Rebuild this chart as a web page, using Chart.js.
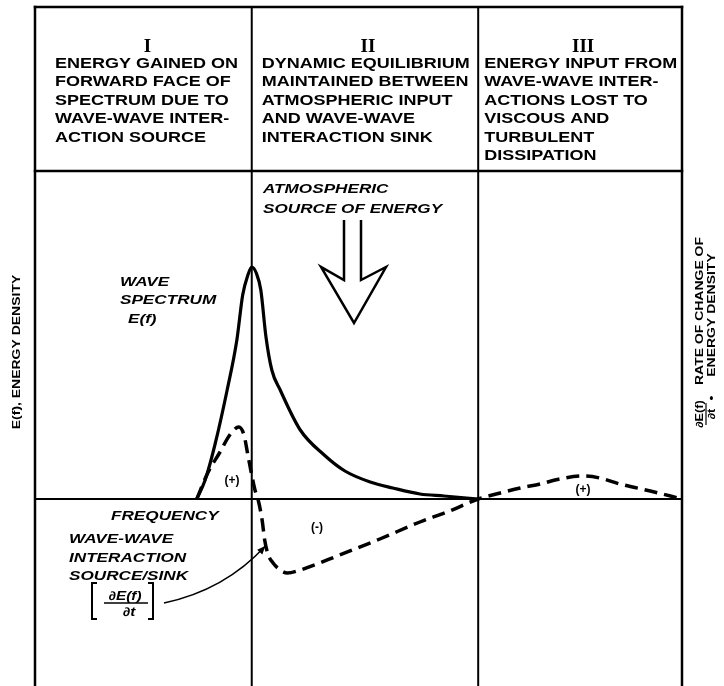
<!DOCTYPE html>
<html>
<head>
<meta charset="utf-8">
<script src="https://cdn.jsdelivr.net/npm/chart.js@4.4.1/dist/chart.umd.min.js"></script>
<style>
  html, body { margin: 0; padding: 0; background: #fff; }
  canvas { display: block; }
</style>
</head>
<body>
<canvas id="waveChart" width="724" height="686"></canvas>
<script>
// frequency runs 0..100 across the three regions, energy in relative units
const regionBounds = [0, 33.5, 68.5, 100];

// solid curve: wave spectrum E(f)
const spectrumFreq   = [25.0, 26.3, 27.8, 29.7, 31.2, 32.1, 32.9, 33.5, 34.2, 34.9, 35.7, 36.6, 37.9, 41.0, 44.7, 47.9, 51.8, 55.3, 59.5, 63.2, 68.5];
const spectrumEnergy = [0, 19, 54, 109, 159, 204, 224, 232, 226, 209, 162, 129, 109, 69, 44, 28, 17, 11, 5, 3, 0];

// dashed curve: wave-wave interaction source/sink dE(f)/dt
const sinkFreq = [25.0, 26.7, 28.6, 30.1, 31.5, 32.3, 32.9, 33.5, 34.0, 34.5, 35.1, 35.5, 36.0, 36.8, 37.9, 39.0, 41.0, 47.1, 53.3, 59.5, 64.1, 68.5, 71.9, 75.0, 78.1, 81.1, 84.7, 87.3, 90.4, 95.1, 100];
const sinkRate = [0, 26, 47, 64, 72, 64, 44, 24, 9, -1, -21, -41, -55, -64, -71, -74, -71, -56, -40, -23, -12, 0, 6, 11, 15, 20, 23, 21, 15, 8, 0];

// header text for each region
const regionNumerals = ['I', 'II', 'III'];
const regionText = [
  ['ENERGY GAINED ON', 'FORWARD FACE OF', 'SPECTRUM DUE TO', 'WAVE-WAVE INTER-', 'ACTION SOURCE'],
  ['DYNAMIC EQUILIBRIUM', 'MAINTAINED BETWEEN', 'ATMOSPHERIC INPUT', 'AND WAVE-WAVE', 'INTERACTION SINK'],
  ['ENERGY INPUT FROM', 'WAVE-WAVE INTER-', 'ACTIONS LOST TO', 'VISCOUS AND', 'TURBULENT', 'DISSIPATION']
];

const SANS = '"Liberation Sans", Arial, sans-serif';
const SX = 1.27; // lettering in the original is wider than Arial
const HEADER_TOP = 7;

function wideText(ctx, str, x, y, font, align, sx) {
  ctx.save();
  ctx.font = font;
  ctx.textAlign = align || 'left';
  ctx.textBaseline = 'alphabetic';
  ctx.translate(x, y);
  ctx.scale(sx || SX, 1);
  ctx.fillText(str, 0, 0);
  ctx.restore();
}

function upText(ctx, str, x, y, font) {
  ctx.save();
  ctx.font = font;
  ctx.textAlign = 'center';
  ctx.textBaseline = 'middle';
  ctx.translate(x, y);
  ctx.rotate(-Math.PI / 2);
  ctx.scale(SX, 1);
  ctx.fillText(str, 0, 0);
  ctx.restore();
}

function seg(ctx, x1, y1, x2, y2, w) {
  ctx.lineWidth = w;
  ctx.beginPath();
  ctx.moveTo(x1, y1);
  ctx.lineTo(x2, y2);
  ctx.stroke();
}

const diagramPlugin = {
  id: 'diagram',
  beforeDatasetsDraw(chart) {
    const ctx = chart.ctx;
    const { left, right, top, bottom } = chart.chartArea;
    const xs = chart.scales.x, ys = chart.scales.y;
    ctx.save();
    ctx.strokeStyle = '#000';
    ctx.lineCap = 'square';
    // frame + header box
    seg(ctx, left, HEADER_TOP, right, HEADER_TOP, 2.5);
    seg(ctx, left, HEADER_TOP, left, bottom, 2.5);
    seg(ctx, right, HEADER_TOP, right, bottom, 2.5);
    seg(ctx, left, top, right, top, 2.5);
    // region dividers
    regionBounds.slice(1, -1).forEach(f => {
      const px = xs.getPixelForValue(f);
      seg(ctx, px, HEADER_TOP, px, bottom, 2);
    });
    // frequency axis
    const y0 = ys.getPixelForValue(0);
    seg(ctx, left, y0, right, y0, 2);
    ctx.restore();
  },
  afterDatasetsDraw(chart) {
    const ctx = chart.ctx;
    const xs = chart.scales.x, ys = chart.scales.y;
    ctx.save();
    ctx.fillStyle = '#000';
    ctx.strokeStyle = '#000';

    // header: numerals and descriptions
    const textLeft = [20, 10, 6];
    const numeralShift = [4, 3, 3];
    for (let i = 0; i < 3; i++) {
      const a = xs.getPixelForValue(regionBounds[i]);
      const b = xs.getPixelForValue(regionBounds[i + 1]);
      ctx.font = 'bold 19px "Liberation Serif", serif';
      ctx.textAlign = 'center';
      ctx.fillText(regionNumerals[i], (a + b) / 2 + numeralShift[i], 52);
      regionText[i].forEach((line, j) => {
        wideText(ctx, line, a + textLeft[i], 67.5 + j * 18.5, 'bold 15px ' + SANS, 'left', 1.2);
      });
    }

    const italic = 'italic bold 13.5px ' + SANS;
    wideText(ctx, 'ATMOSPHERIC', 263, 193, italic);
    wideText(ctx, 'SOURCE OF ENERGY', 263, 213, italic);
    wideText(ctx, 'WAVE', 120, 286, italic);
    wideText(ctx, 'SPECTRUM', 120, 304, italic);
    wideText(ctx, 'E(f)', 128, 323, italic);
    wideText(ctx, 'FREQUENCY', 111, 520, italic);
    wideText(ctx, 'WAVE-WAVE', 69, 543, italic);
    wideText(ctx, 'INTERACTION', 69, 562, italic);
    wideText(ctx, 'SOURCE/SINK', 69, 580, italic);

    // [ dE(f)/dt ] in brackets
    ctx.lineWidth = 2;
    ctx.beginPath();
    ctx.moveTo(97, 583); ctx.lineTo(92, 583); ctx.lineTo(92, 619); ctx.lineTo(97, 619);
    ctx.moveTo(148, 583); ctx.lineTo(153, 583); ctx.lineTo(153, 619); ctx.lineTo(148, 619);
    ctx.stroke();
    const small = 'italic bold 12px ' + SANS;
    wideText(ctx, '\u2202E(f)', 125, 600, small, 'center');
    seg(ctx, 104, 603, 148, 603, 1.5);
    wideText(ctx, '\u2202t', 129, 616, small, 'center');

    // leader from the label to the dashed curve
    const tipX = xs.getPixelForValue(35.6), tipY = ys.getPixelForValue(-47);
    const sx = 164, sy = 603, cx = 225, cy = 590;
    ctx.lineWidth = 1.5;
    ctx.beginPath();
    ctx.moveTo(sx, sy);
    ctx.quadraticCurveTo(cx, cy, tipX, tipY);
    ctx.stroke();
    const ang = Math.atan2(tipY - cy, tipX - cx);
    ctx.beginPath();
    ctx.moveTo(tipX, tipY);
    ctx.lineTo(tipX - 9 * Math.cos(ang - 0.4), tipY - 9 * Math.sin(ang - 0.4));
    ctx.lineTo(tipX - 9 * Math.cos(ang + 0.4), tipY - 9 * Math.sin(ang + 0.4));
    ctx.closePath();
    ctx.fill();

    // region signs
    ctx.font = 'bold 12px ' + SANS;
    ctx.textAlign = 'center';
    ctx.textBaseline = 'middle';
    ctx.fillText('(+)', 232, 481);
    ctx.fillText('(-)', 317, 528);
    ctx.fillText('(+)', 583, 490);

    // hollow arrow: atmospheric input
    ctx.lineWidth = 2.5;
    ctx.lineJoin = 'miter';
    ctx.beginPath();
    ctx.moveTo(344, 220); ctx.lineTo(344, 280); ctx.lineTo(321, 267);
    ctx.lineTo(354, 323); ctx.lineTo(386, 267); ctx.lineTo(361, 280);
    ctx.lineTo(361, 220);
    ctx.stroke();

    // axis titles
    const axisFont = 'bold 11px ' + SANS;
    upText(ctx, 'E(f), ENERGY DENSITY', 17, 352, axisFont);
    upText(ctx, 'RATE OF CHANGE OF', 700, 311, axisFont);
    upText(ctx, 'ENERGY DENSITY', 712, 315, axisFont);
    upText(ctx, '\u2022', 712, 398, axisFont);
    upText(ctx, '\u2202E(f)', 700, 414, 'bold 10px ' + SANS);
    seg(ctx, 706, 403, 706, 425, 1.2);
    upText(ctx, '\u2202t', 712, 414, 'bold 10px ' + SANS);
    ctx.restore();
  }
};

new Chart(document.getElementById('waveChart'), {
  type: 'line',
  data: {
    datasets: [
      {
        label: 'Wave spectrum E(f)',
        data: spectrumFreq.map((f, i) => ({ x: f, y: spectrumEnergy[i] })),
        borderColor: '#000',
        borderWidth: 3.2,
        cubicInterpolationMode: 'monotone',
        pointRadius: 0,
        fill: false
      },
      {
        label: 'Wave-wave interaction source/sink',
        data: sinkFreq.map((f, i) => ({ x: f, y: sinkRate[i] })),
        borderColor: '#000',
        borderWidth: 3.5,
        borderDash: [13, 7],
        cubicInterpolationMode: 'monotone',
        pointRadius: 0,
        fill: false
      }
    ]
  },
  options: {
    responsive: false,
    animation: false,
    devicePixelRatio: 1,
    layout: { padding: { left: 35, right: 42, top: 171, bottom: 0 } },
    plugins: { legend: { display: false }, tooltip: { enabled: false } },
    scales: {
      x: { type: 'linear', display: false, min: 0, max: 100 },
      y: { type: 'linear', display: false, min: -187, max: 328 }
    }
  },
  plugins: [diagramPlugin]
});
</script>
</body>
</html>
